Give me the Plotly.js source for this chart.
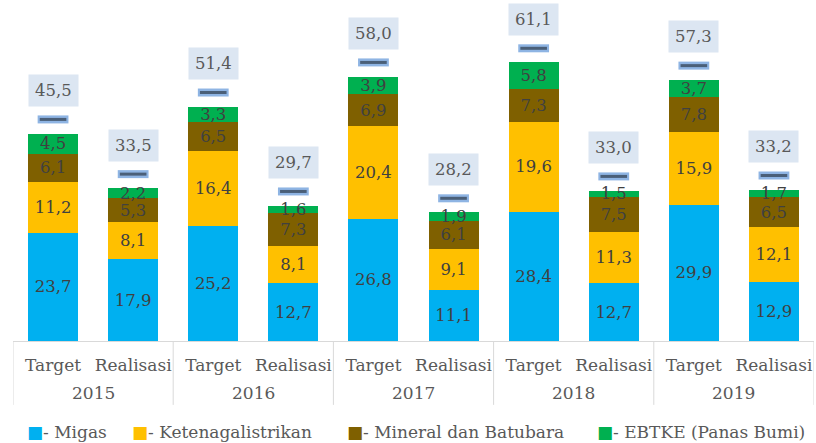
<!DOCTYPE html>
<html>
<head>
<meta charset="utf-8">
<script src="https://cdn.plot.ly/plotly-3.0.1.min.js"></script>
<style>html,body{margin:0;padding:0;background:#fff;}#chart{width:816px;height:443px;}</style>
</head>
<body>
<div id="chart"></div>
<script>
const years = ["2015","2015","2016","2016","2017","2017","2018","2018","2019","2019"];
const kinds = ["Target","Realisasi","Target","Realisasi","Target","Realisasi","Target","Realisasi","Target","Realisasi"];
const migas = [23.7, 17.9, 25.2, 12.7, 26.8, 11.1, 28.4, 12.7, 29.9, 12.9];
const listrik = [11.2, 8.1, 16.4, 8.1, 20.4, 9.1, 19.6, 11.3, 15.9, 12.1];
const minerba = [6.1, 5.3, 6.5, 7.3, 6.9, 6.1, 7.3, 7.5, 7.8, 6.5];
const ebtke = [4.5, 2.2, 3.3, 1.6, 3.9, 1.9, 5.8, 1.5, 3.7, 1.7];
const totals = [45.5, 33.5, 51.4, 29.7, 58.0, 28.2, 61.1, 33.0, 57.3, 33.2];
const seriesNames = ["- Migas", "- Ketenagalistrikan", "- Mineral dan Batubara", "- EBTKE (Panas Bumi)"];
const colors = ["#00b0f0", "#ffc000", "#7f6000", "#00b050"];

const fmt = v => v.toFixed(1).replace('.', ',');
const cats = years.map((y, i) => y + ' ' + kinds[i]);
const font = "DejaVu Serif, serif";
const txtColor = '#595959';

const data = [migas, listrik, minerba, ebtke].map((vals, i) => ({
  type: 'bar',
  name: seriesNames[i],
  x: cats,
  y: vals,
  text: vals.map(fmt),
  textposition: 'inside',
  insidetextanchor: 'middle',
  constraintext: 'none',
  textfont: {family: font, size: 16.5, color: '#404040'},
  marker: {color: colors[i], line: {width: 0}},
  hoverinfo: 'none'
}));

// total markers (dash just above each stack)
const dashOffset = 3.1;
data.push({
  type: 'scatter', mode: 'markers', x: cats,
  y: totals.map(t => t + dashOffset),
  marker: {symbol: 'line-ew', size: 22, line: {width: 8, color: '#8eb4e3'}},
  showlegend: false, hoverinfo: 'none'
});
data.push({
  type: 'scatter', mode: 'markers', x: cats,
  y: totals.map(t => t + dashOffset),
  marker: {symbol: 'line-ew', size: 19, line: {width: 3, color: '#4a5f78'}},
  showlegend: false, hoverinfo: 'none'
});

const annotations = totals.map((t, i) => ({
  x: cats[i], xref: 'x', yref: 'y',
  y: t, yshift: 43, yanchor: 'middle',
  text: fmt(t), showarrow: false,
  bgcolor: '#dce6f2', borderpad: 6,
  font: {family: font, size: 16.5, color: txtColor}
}));

// year labels (second row of the category axis)
const uniqueYears = [...new Set(years)];
uniqueYears.forEach((y, k) => {
  annotations.push({
    x: 2 * k + 0.5, xref: 'x', y: -0.157, yref: 'paper', yanchor: 'middle',
    text: y, showarrow: false, font: {family: font, size: 17, color: txtColor}
  });
});

// legend row
const legendX = [0.015, 0.146, 0.4145, 0.7266];
seriesNames.forEach((n, i) => {
  annotations.push({
    x: legendX[i], xref: 'paper', xanchor: 'left', y: -0.275, yref: 'paper', yanchor: 'middle',
    text: '<span style="color:' + colors[i] + ';font-family:DejaVu Sans">■</span>' + n,
    showarrow: false, font: {family: font, size: 17, color: txtColor}
  });
});

// group dividers
const shapes = [];
for (let k = 0; k <= uniqueYears.length; k++) {
  shapes.push({type: 'line', xref: 'x', yref: 'paper', x0: 2 * k - 0.5, x1: 2 * k - 0.5,
               y0: 0, y1: -0.193, line: {color: '#d9d9d9', width: 1}});
}

const layout = {
  width: 816, height: 443,
  margin: {l: 13, r: 2, t: 10, b: 102},
  barmode: 'stack',
  bargap: 0.375,
  showlegend: false,
  xaxis: {type: 'category', range: [-0.5, 9.5], automargin: false,
          showline: true, linecolor: '#d9d9d9', linewidth: 1,
          tickmode: 'array', tickvals: cats, ticktext: kinds, ticks: '',
          ticklabelstandoff: 9,
          tickfont: {family: font, size: 17, color: txtColor}, showgrid: false},
  yaxis: {range: [0, 72.6], visible: false, showgrid: false, zeroline: false, automargin: false},
  annotations: annotations,
  shapes: shapes,
  plot_bgcolor: '#ffffff', paper_bgcolor: '#ffffff'
};

Plotly.newPlot('chart', data, layout, {displayModeBar: false, staticPlot: true});
</script>
</body>
</html>
